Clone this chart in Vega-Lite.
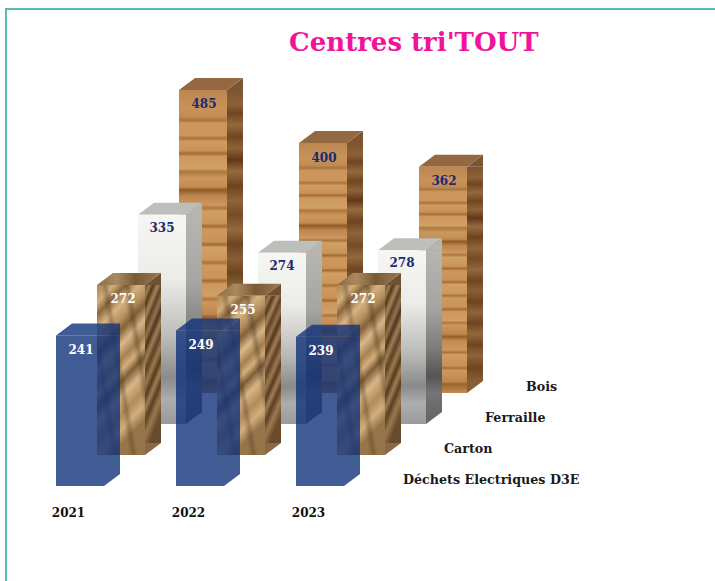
{
"$schema":"https://vega.github.io/schema/vega-lite/v6.json",
"width":720,"height":600,
"autosize":{"type":"none"},
"padding":{"left":6,"top":9,"right":0,"bottom":0},
"background":"#ffffff",
"config":{"view":{"stroke":"#55bcae","strokeWidth":2,"fill":"#ffffff"}},
"title":{"text":"Centres tri'TOUT","anchor":"start","frame":"group","dx":283,"dy":60,"offset":0,"baseline":"middle","font":"DejaVu Serif","fontWeight":"bold","fontSize":26,"color":"#f0149b"},
"data":{"values":[
{"annee":"2021","serie":"Bois","valeur":485},{"annee":"2022","serie":"Bois","valeur":400},{"annee":"2023","serie":"Bois","valeur":362},
{"annee":"2021","serie":"Ferraille","valeur":335},{"annee":"2022","serie":"Ferraille","valeur":274},{"annee":"2023","serie":"Ferraille","valeur":278},
{"annee":"2021","serie":"Carton","valeur":272},{"annee":"2022","serie":"Carton","valeur":255},{"annee":"2023","serie":"Carton","valeur":272},
{"annee":"2021","serie":"Déchets Electriques D3E","valeur":241},{"annee":"2022","serie":"Déchets Electriques D3E","valeur":249},{"annee":"2023","serie":"Déchets Electriques D3E","valeur":239}
]},
"resolve":{"scale":{"x":"independent","y":"independent"},"axis":{"x":"independent","y":"independent"}},
"layer":[
{"transform":[{"filter":"datum.serie==='Bois'"}],
 "encoding":{"x":{"field":"annee","type":"ordinal","axis":null,"scale":{"type":"point","padding":0,"range":[197,437]}},
  "y":{"field":"valeur","type":"quantitative","axis":null,"scale":{"domain":[0,500],"range":[384,71.5],"nice":false,"zero":false}}},
 "layer":[
  {"mark":{"type":"bar","width":16,"xOffset":32,"fill":{"gradient":"linear","x1":0,"y1":0,"x2":0,"y2":1,"stops":[{"offset":0,"color":"#7d5533"},{"offset":0.05,"color":"#8e6036"},{"offset":0.08,"color":"#6e4722"},{"offset":0.12,"color":"#95683c"},{"offset":0.16,"color":"#6f4820"},{"offset":0.2,"color":"#8f6237"},{"offset":0.24,"color":"#60391a"},{"offset":0.28,"color":"#966a3e"},{"offset":0.33,"color":"#6b4520"},{"offset":0.38,"color":"#90643a"},{"offset":0.43,"color":"#744c26"},{"offset":0.48,"color":"#94683c"},{"offset":0.53,"color":"#6d4722"},{"offset":0.58,"color":"#8a5e34"},{"offset":0.63,"color":"#6b4520"},{"offset":0.68,"color":"#90643a"},{"offset":0.73,"color":"#6c4622"},{"offset":0.78,"color":"#94683c"},{"offset":0.83,"color":"#6d4722"},{"offset":0.88,"color":"#8f6339"},{"offset":0.94,"color":"#6d4722"},{"offset":1,"color":"#8a5e34"}]}},"encoding":{"y2":{"datum":19.2}}},
  {"mark":{"type":"point","filled":true,"opacity":1,"size":4,"shape":"M24,0L40,0L40,-12Z","fill":"#7d5533","stroke":null}},
  {"mark":{"type":"point","filled":true,"opacity":1,"size":4,"shape":"M24,0L40,-12L24,-12Z","fill":"#8a5e34","stroke":null},"encoding":{"y":{"datum":0}}},
  {"mark":{"type":"point","filled":true,"opacity":1,"size":4,"shape":"M-24,0L24,0L40,-12L-8,-12Z","fill":"#946840","stroke":null}},
  {"mark":{"type":"bar","width":48,"fill":{"gradient":"linear","x1":0,"y1":0,"x2":0,"y2":1,"stops":[{"offset":0,"color":"#bb8650"},{"offset":0.06,"color":"#c9935a"},{"offset":0.09,"color":"#c18a52"},{"offset":0.1,"color":"#a8743f"},{"offset":0.11,"color":"#cc965c"},{"offset":0.15,"color":"#cb955b"},{"offset":0.16,"color":"#aa733c"},{"offset":0.17,"color":"#cf9b61"},{"offset":0.2,"color":"#c9925a"},{"offset":0.21,"color":"#a66d35"},{"offset":0.22,"color":"#cd985d"},{"offset":0.26,"color":"#d0a066"},{"offset":0.27,"color":"#ad7840"},{"offset":0.29,"color":"#cc975c"},{"offset":0.32,"color":"#c28b52"},{"offset":0.33,"color":"#8f5a26"},{"offset":0.35,"color":"#bd8850"},{"offset":0.38,"color":"#cc975c"},{"offset":0.39,"color":"#ac763f"},{"offset":0.4,"color":"#d0a066"},{"offset":0.44,"color":"#c9945a"},{"offset":0.45,"color":"#a46c34"},{"offset":0.46,"color":"#cd985e"},{"offset":0.5,"color":"#c9925a"},{"offset":0.51,"color":"#a56c35"},{"offset":0.52,"color":"#d0a066"},{"offset":0.56,"color":"#cc975c"},{"offset":0.57,"color":"#a97239"},{"offset":0.58,"color":"#cd9a5f"},{"offset":0.62,"color":"#c9935a"},{"offset":0.63,"color":"#a46b33"},{"offset":0.64,"color":"#cd985e"},{"offset":0.68,"color":"#d0a066"},{"offset":0.69,"color":"#ac763f"},{"offset":0.7,"color":"#cc975c"},{"offset":0.74,"color":"#bd864e"},{"offset":0.75,"color":"#95602b"},{"offset":0.77,"color":"#c28c53"},{"offset":0.81,"color":"#cc975c"},{"offset":0.82,"color":"#a97239"},{"offset":0.83,"color":"#cf9c61"},{"offset":0.88,"color":"#c8925a"},{"offset":0.89,"color":"#a66d35"},{"offset":0.9,"color":"#cd985e"},{"offset":0.95,"color":"#bd864e"},{"offset":0.96,"color":"#9a642e"},{"offset":1,"color":"#c28c53"}]}}},
  {"mark":{"type":"text","dy":14.5,"dx":1,"font":"DejaVu Serif","fontWeight":"bold","fontSize":12,"color":"#1b2a72"},"encoding":{"text":{"field":"valeur","type":"quantitative"}}}
 ]},
{"transform":[{"filter":"datum.serie==='Ferraille'"}],
 "encoding":{"x":{"field":"annee","type":"ordinal","axis":null,"scale":{"type":"point","padding":0,"range":[156,396]}},
  "y":{"field":"valeur","type":"quantitative","axis":null,"scale":{"domain":[0,500],"range":[415,102.5],"nice":false,"zero":false}}},
 "layer":[
  {"mark":{"type":"bar","width":16,"xOffset":32,"fill":{"gradient":"linear","x1":0,"y1":0,"x2":0,"y2":1,"stops":[{"offset":0,"color":"#b4b6b2"},{"offset":0.35,"color":"#a5a6a3"},{"offset":0.6,"color":"#7d7d7b"},{"offset":0.78,"color":"#555555"},{"offset":0.88,"color":"#757575"},{"offset":1,"color":"#686868"}]}},"encoding":{"y2":{"datum":19.2}}},
  {"mark":{"type":"point","filled":true,"opacity":1,"size":4,"shape":"M24,0L40,0L40,-12Z","fill":"#b4b6b2","stroke":null}},
  {"mark":{"type":"point","filled":true,"opacity":1,"size":4,"shape":"M24,0L40,-12L24,-12Z","fill":"#686868","stroke":null},"encoding":{"y":{"datum":0}}},
  {"mark":{"type":"point","filled":true,"opacity":1,"size":4,"shape":"M-24,0L24,0L40,-12L-8,-12Z","fill":"#bcbfbb","stroke":null}},
  {"mark":{"type":"bar","width":48,"fill":{"gradient":"linear","x1":0,"y1":0,"x2":0,"y2":1,"stops":[{"offset":0,"color":"#f6f6f2"},{"offset":0.3,"color":"#ecece8"},{"offset":0.6,"color":"#b9b9b6"},{"offset":0.78,"color":"#8a8a8a"},{"offset":0.88,"color":"#adadad"},{"offset":1,"color":"#9a9a9a"}]}}},
  {"mark":{"type":"text","dy":13,"font":"DejaVu Serif","fontWeight":"bold","fontSize":12,"color":"#1b2a72"},"encoding":{"text":{"field":"valeur","type":"quantitative"}}}
 ]},
{"transform":[{"filter":"datum.serie==='Carton'"}],
 "encoding":{"x":{"field":"annee","type":"ordinal","axis":null,"scale":{"type":"point","padding":0,"range":[115,355]}},
  "y":{"field":"valeur","type":"quantitative","axis":null,"scale":{"domain":[0,500],"range":[446,133.5],"nice":false,"zero":false}}},
 "layer":[
  {"mark":{"type":"bar","width":16,"xOffset":32,"fill":{"gradient":"linear","x1":0,"y1":0,"x2":0.25,"y2":1,"stops":[{"offset":0,"color":"#6f5030"},{"offset":0.07,"color":"#9c7a50"},{"offset":0.12,"color":"#54391f"},{"offset":0.19,"color":"#a5845a"},{"offset":0.25,"color":"#5d4226"},{"offset":0.32,"color":"#94724a"},{"offset":0.38,"color":"#4f361d"},{"offset":0.45,"color":"#a07e55"},{"offset":0.52,"color":"#5d4226"},{"offset":0.6,"color":"#9b794f"},{"offset":0.67,"color":"#573b20"},{"offset":0.74,"color":"#a07e55"},{"offset":0.81,"color":"#5a3f24"},{"offset":0.9,"color":"#9b794f"},{"offset":1,"color":"#6a4c2d"}]}},"encoding":{"y2":{"datum":19.2}}},
  {"mark":{"type":"point","filled":true,"opacity":1,"size":4,"shape":"M24,0L40,0L40,-12Z","fill":"#6f5030","stroke":null}},
  {"mark":{"type":"point","filled":true,"opacity":1,"size":4,"shape":"M24,0L40,-12L24,-12Z","fill":"#8a6a44","stroke":null},"encoding":{"y":{"datum":0}}},
  {"mark":{"type":"point","filled":true,"opacity":1,"size":4,"shape":"M-24,0L24,0L40,-12L-8,-12Z","fill":{"gradient":"linear","x1":0,"y1":0,"x2":1,"y2":0,"stops":[{"offset":0,"color":"#8c6a42"},{"offset":0.3,"color":"#a98a60"},{"offset":0.6,"color":"#7a5a36"},{"offset":1,"color":"#9a7a52"}]},"stroke":null}},
  {"mark":{"type":"bar","width":48,"fill":{"gradient":"linear","x1":0,"y1":0,"x2":0.3,"y2":1,"stops":[{"offset":0,"color":"#a98655"},{"offset":0.1,"color":"#d2ad7c"},{"offset":0.16,"color":"#8a683f"},{"offset":0.24,"color":"#d7b384"},{"offset":0.32,"color":"#b48f5f"},{"offset":0.38,"color":"#84623a"},{"offset":0.46,"color":"#dab88a"},{"offset":0.54,"color":"#a5814f"},{"offset":0.6,"color":"#d4af7e"},{"offset":0.66,"color":"#7f5e37"},{"offset":0.74,"color":"#d8b587"},{"offset":0.84,"color":"#b08b5b"},{"offset":0.92,"color":"#d3ae7d"},{"offset":1,"color":"#97754a"}]}}},
  {"mark":{"type":"bar","width":48,"fill":{"gradient":"linear","x1":1,"y1":0.2,"x2":0,"y2":0.8,"stops":[{"offset":0,"color":"rgba(61,42,20,0)"},{"offset":0.12,"color":"rgba(61,42,20,0.05)"},{"offset":0.18,"color":"rgba(61,42,20,0.35)"},{"offset":0.26,"color":"rgba(61,42,20,0)"},{"offset":0.46,"color":"rgba(61,42,20,0)"},{"offset":0.52,"color":"rgba(61,42,20,0.3)"},{"offset":0.6,"color":"rgba(61,42,20,0)"},{"offset":0.74,"color":"rgba(61,42,20,0)"},{"offset":0.8,"color":"rgba(61,42,20,0.3)"},{"offset":0.88,"color":"rgba(61,42,20,0)"},{"offset":1,"color":"rgba(61,42,20,0)"}]}}},
  {"mark":{"type":"text","dy":14,"dx":2,"font":"DejaVu Serif","fontWeight":"bold","fontSize":12,"color":"#ffffff"},"encoding":{"text":{"field":"valeur","type":"quantitative"}}}
 ]},
{"transform":[{"filter":"datum.serie==='Déchets Electriques D3E'"}],
 "encoding":{"x":{"field":"annee","type":"ordinal","axis":null,"scale":{"type":"point","padding":0,"range":[74,314]}},
  "y":{"field":"valeur","type":"quantitative","axis":null,"scale":{"domain":[0,500],"range":[477,164.5],"nice":false,"zero":false}}},
 "layer":[
  {"mark":{"type":"bar","width":16,"xOffset":32,"fill":"#12337a","opacity":0.8},"encoding":{"y2":{"datum":19.2}}},
  {"mark":{"type":"point","filled":true,"opacity":0.8,"size":4,"shape":"M24,0L40,0L40,-12Z","fill":"#12337a","stroke":null}},
  {"mark":{"type":"point","filled":true,"opacity":0.8,"size":4,"shape":"M24,0L40,-12L24,-12Z","fill":"#12337a","stroke":null},"encoding":{"y":{"datum":0}}},
  {"mark":{"type":"point","filled":true,"opacity":0.8,"size":4,"shape":"M-24,0L24,0L40,-12L-8,-12Z","fill":"#12337a","stroke":null}},
  {"mark":{"type":"bar","width":48,"fill":"#12337a","opacity":0.8}},
  {"mark":{"type":"text","dy":14.5,"dx":1,"font":"DejaVu Serif","fontWeight":"bold","fontSize":12,"color":"#ffffff"},"encoding":{"text":{"field":"valeur","type":"quantitative"}}}
 ]},
{"transform":[{"filter":"datum.serie==='Déchets Electriques D3E'"}],
 "mark":{"type":"text","opacity":0},
 "encoding":{"x":{"field":"annee","type":"ordinal","title":null,"scale":{"type":"point","padding":0,"range":[62,302]},
   "axis":{"orient":"bottom","offset":-97,"domain":false,"ticks":false,"grid":false,"labelAngle":0,"labelPadding":0,"labelBaseline":"middle","labelFont":"DejaVu Serif","labelFontWeight":"bold","labelFontSize":12,"labelColor":"#111111"}},
  "text":{"field":"annee","type":"ordinal"}}},
{"transform":[{"filter":"datum.annee==='2021'"}],
 "mark":{"type":"text","align":"left","baseline":"middle","font":"DejaVu Serif","fontWeight":"bold","fontSize":12.7,"color":"#1a1a1a"},
 "encoding":{"x":{"field":"serie","type":"nominal","axis":null,"scale":{"type":"point","padding":0,"domain":["Déchets Electriques D3E","Carton","Ferraille","Bois"],"range":[397,520]}},
  "y":{"field":"serie","type":"nominal","axis":null,"scale":{"type":"point","padding":0,"domain":["Déchets Electriques D3E","Carton","Ferraille","Bois"],"range":[471,378]}},
  "text":{"field":"serie","type":"nominal"}}}
]
}
